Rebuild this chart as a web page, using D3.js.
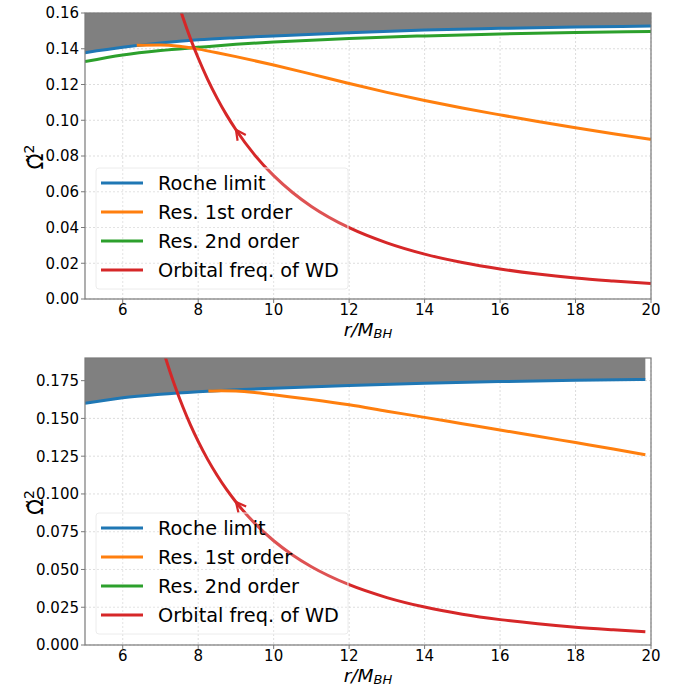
<!DOCTYPE html>
<html><head><meta charset="utf-8">
<script src="https://cdn.jsdelivr.net/npm/d3@7"></script>
<style>body{margin:0;background:#fff}svg{display:block}text{font-family:"DejaVu Sans",sans-serif}</style>
</head><body>
<svg id="chart" width="683" height="688"></svg>
<script>
// ---------- data ----------
const legendLabels = ["Roche limit", "Res. 1st order", "Res. 2nd order", "Orbital freq. of WD"];
const seriesColors = ["#1f77b4", "#ff7f0e", "#2ca02c", "#d62728"];
const xTicks = [6, 8, 10, 12, 14, 16, 18, 20];
const yTicksTop = [0, 0.02, 0.04, 0.06, 0.08, 0.10, 0.12, 0.14, 0.16];
const yTicksBottom = [0, 0.025, 0.05, 0.075, 0.1, 0.125, 0.15, 0.175];

// top panel
const rocheRTop = [5, 6, 7, 8, 9, 10, 12, 14, 16, 18, 20];
const rocheTop = [0.1378, 0.1408, 0.1432, 0.1450, 0.1462, 0.1472, 0.1490, 0.1505, 0.1514, 0.1521, 0.1527];
const res1RTop = [6.37, 7, 7.5, 8, 8.5, 9, 10, 11, 12, 13, 14, 15, 16, 17, 18, 19, 20];
const res1Top = [0.1420, 0.1421, 0.1414, 0.1398, 0.1378, 0.1356, 0.1309, 0.1258, 0.1206, 0.1156, 0.1110, 0.1068, 0.1030, 0.0993, 0.0958, 0.0925, 0.0893];
const res2RTop = [5, 6, 7, 8, 9, 10, 12, 14, 16, 18, 20];
const res2Top = [0.1328, 0.1365, 0.1390, 0.1408, 0.1425, 0.1438, 0.1458, 0.1472, 0.1483, 0.1491, 0.1497];
const orbRTop = [7.1, 7.25, 7.4, 7.6, 7.8, 8, 8.25, 8.5, 8.75, 9, 9.5, 10, 10.5, 11, 12, 13, 14, 15, 16, 17, 18, 19, 20];
const orbTop = [0.1928, 0.1811, 0.1703, 0.1572, 0.1454, 0.1348, 0.1229, 0.1124, 0.1030, 0.0947, 0.0805, 0.0690, 0.0596, 0.0518, 0.0399, 0.0314, 0.0251, 0.0204, 0.0168, 0.0140, 0.0118, 0.0101, 0.0086];

// bottom panel
const rocheRBot = [5, 6, 7, 8, 9, 10, 12, 14, 16, 18, 19.85];
const rocheBot = [0.1600, 0.1637, 0.1660, 0.1677, 0.1690, 0.1700, 0.1718, 0.1733, 0.1744, 0.1752, 0.1758];
const res1RBot = [8.27, 8.6, 9, 9.5, 10, 11, 12, 13, 14, 15, 16, 17, 18, 19, 19.85];
const res1Bot = [0.1681, 0.1684, 0.1682, 0.1672, 0.1656, 0.1625, 0.1590, 0.1548, 0.1507, 0.1465, 0.1423, 0.1382, 0.1340, 0.1298, 0.1260];
const orbRBot = [7.1, 7.25, 7.4, 7.6, 7.8, 8, 8.25, 8.5, 8.75, 9, 9.5, 10, 10.5, 11, 12, 13, 14, 15, 16, 17, 18, 19, 19.85];
const orbBot = [0.1928, 0.1811, 0.1703, 0.1572, 0.1454, 0.1348, 0.1229, 0.1124, 0.1030, 0.0947, 0.0805, 0.0690, 0.0596, 0.0518, 0.0399, 0.0314, 0.0251, 0.0204, 0.0168, 0.0140, 0.0118, 0.0101, 0.0088];

const arrowR = 9;

const panels = [
  {id: "p0", top: 13, bottom: 299, yMax: 0.16, yTicks: yTicksTop, fmt: d3.format(".2f"),
   roche: [rocheRTop, rocheTop], res1: [res1RTop, res1Top], res2: [res2RTop, res2Top], orb: [orbRTop, orbTop],
   legendTop: 168},
  {id: "p1", top: 358, bottom: 645, yMax: 0.19, yTicks: yTicksBottom, fmt: d3.format(".3f"),
   roche: [rocheRBot, rocheBot], res1: [res1RBot, res1Bot], res2: null, orb: [orbRBot, orbBot],
   legendTop: 513}
];

const svg = d3.select("#chart");
const left = 85, right = 651;
const zip = (a) => a[0].map((r, i) => [r, a[1][i]]);

panels.forEach(p => {
  const x = d3.scaleLinear().domain([5, 20]).range([left, right]);
  const y = d3.scaleLinear().domain([0, p.yMax]).range([p.bottom, p.top]);
  const g = svg.append("g");

  g.append("clipPath").attr("id", "clip" + p.id).append("rect")
    .attr("x", left).attr("y", p.top).attr("width", right - left).attr("height", p.bottom - p.top);

  // grid
  g.append("g").selectAll("line").data(xTicks).join("line")
    .attr("x1", d => x(d)).attr("x2", d => x(d)).attr("y1", p.top).attr("y2", p.bottom)
    .attr("stroke", "#d4d4d4").attr("stroke-width", 0.8).attr("stroke-dasharray", "2,2");
  g.append("g").selectAll("line").data(p.yTicks).join("line")
    .attr("x1", left).attr("x2", right).attr("y1", d => y(d)).attr("y2", d => y(d))
    .attr("stroke", "#d4d4d4").attr("stroke-width", 0.8).attr("stroke-dasharray", "2,2");

  const plot = g.append("g").attr("clip-path", `url(#clip${p.id})`);
  const line = d3.line().x(d => x(d[0])).y(d => y(d[1])).curve(d3.curveMonotoneX);
  const rocheData = zip(p.roche);

  // shaded forbidden region above Roche limit
  const area = d3.area().x(d => x(d[0])).y0(y(p.yMax)).y1(d => y(d[1])).curve(d3.curveMonotoneX);
  plot.append("path").datum(rocheData).attr("d", area).attr("fill", "#808080");

  const draw = (data, color) => plot.append("path").datum(data).attr("d", line)
    .attr("fill", "none").attr("stroke", color).attr("stroke-width", 3).attr("stroke-linecap", "butt");

  if (p.res2) draw(zip(p.res2), seriesColors[2]);
  draw(rocheData, seriesColors[0]);
  draw(zip(p.res1), seriesColors[1]);
  const orbData = zip(p.orb);
  draw(orbData, seriesColors[3]);

  // arrow head on orbital curve
  const i = p.orb[0].indexOf(arrowR);
  const ax = x(orbData[i][0]), ay = y(orbData[i][1]);
  const bx = x(orbData[i + 1][0]), by = y(orbData[i + 1][1]);
  const cx0 = x(orbData[i - 1][0]), cy0 = y(orbData[i - 1][1]);
  let dx = cx0 - bx, dy = cy0 - by; const L = Math.hypot(dx, dy); dx /= L; dy /= L;
  const hl = 10, hw = 5;
  const px = -dy, py = dx;
  plot.append("path")
    .attr("d", `M${ax - dx * hl + px * hw},${ay - dy * hl + py * hw} L${ax},${ay} L${ax - dx * hl - px * hw},${ay - dy * hl - py * hw}`)
    .attr("fill", "none").attr("stroke", seriesColors[3]).attr("stroke-width", 2.2);

  // spines
  g.append("rect").attr("x", left).attr("y", p.top).attr("width", right - left).attr("height", p.bottom - p.top)
    .attr("fill", "none").attr("stroke", "#7a7a7a").attr("stroke-width", 1.2);

  // ticks
  const tk = g.append("g");
  xTicks.forEach(t => {
    tk.append("line").attr("x1", x(t)).attr("x2", x(t)).attr("y1", p.bottom).attr("y2", p.bottom + 4)
      .attr("stroke", "#7a7a7a");
    tk.append("text").attr("x", x(t)).attr("y", p.bottom + 16).attr("text-anchor", "middle")
      .attr("font-size", 15).attr("fill", "#000").text(t);
  });
  p.yTicks.forEach(t => {
    tk.append("line").attr("x1", left - 4).attr("x2", left).attr("y1", y(t)).attr("y2", y(t))
      .attr("stroke", "#7a7a7a");
    tk.append("text").attr("x", left - 6).attr("y", y(t)).attr("dy", "0.36em").attr("text-anchor", "end")
      .attr("font-size", 15).attr("fill", "#000").text(p.fmt(t));
  });

  // axis labels
  const xl = g.append("text").attr("x", 368).attr("y", p.bottom + 37).attr("text-anchor", "middle")
    .attr("font-size", 18.5).attr("font-style", "italic");
  xl.append("tspan").text("r/M");
  xl.append("tspan").attr("font-size", 13).attr("dy", 1.5).text("BH");

  const yc = (p.top + p.bottom) / 2 + 1;
  const yl = g.append("text").attr("transform", `translate(43,${yc}) rotate(-90)`).attr("text-anchor", "middle")
    .attr("font-size", 21);
  yl.append("tspan").text("\u03A9\u0303");
  yl.append("tspan").attr("font-size", 14).attr("dy", -9).text("2");

  // legend
  const lg = g.append("g");
  lg.append("rect").attr("x", 96).attr("y", p.legendTop).attr("width", 252).attr("height", 121)
    .attr("rx", 3).attr("fill", "#fff").attr("fill-opacity", 0.2).attr("stroke", "#ececec");
  legendLabels.forEach((lab, k) => {
    const ly = p.legendTop + 15 + k * 29;
    lg.append("line").attr("x1", 101).attr("x2", 143).attr("y1", ly).attr("y2", ly)
      .attr("stroke", seriesColors[k]).attr("stroke-width", 3);
    lg.append("text").attr("x", 158).attr("y", ly).attr("dy", "0.36em").attr("font-size", 19.3)
      .attr("fill", "#000").text(lab);
  });
});
</script>
</body></html>
